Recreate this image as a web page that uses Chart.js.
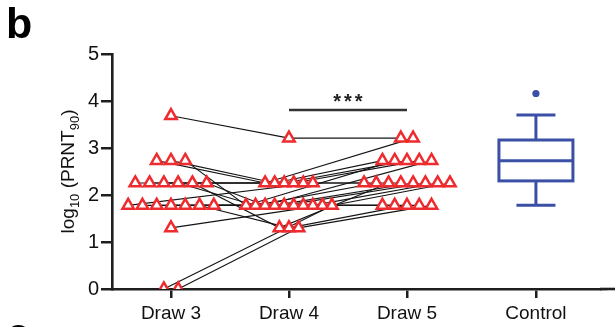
<!DOCTYPE html>
<html>
<head>
<meta charset="utf-8">
<script src="https://cdn.jsdelivr.net/npm/chart.js@4.4.0/dist/chart.umd.min.js"></script>
<style>
  html, body { margin: 0; padding: 0; background: #ffffff; }
  #wrap { width: 615px; height: 327px; position: relative; }
</style>
</head>
<body>
<div id="wrap"><canvas id="c" width="615" height="327"></canvas></div>
<script>
// ---------------- DATA ----------------
const categories = ['Draw 3', 'Draw 4', 'Draw 5', 'Control'];
const yTicks = [0, 1, 2, 3, 4, 5];
// log10(PRNT90) per subject (same order in each array = one subject's trajectory)
const draw3 = [3.687, 2.732, 2.732, 2.732, 2.255, 2.255, 2.255, 2.255, 2.255, 2.255,
               1.778, 1.778, 1.778, 1.778, 1.778, 1.778, 1.778, 1.301, 0, 0];
const draw4 = [3.210, 2.255, 2.255, 1.778, 2.255, 2.255, 2.255, 1.778, 1.301, 1.778,
               2.255, 1.778, 1.778, 1.778, 1.778, 1.301, 1.778, 1.778, 1.778, 1.301];
const draw5 = [3.210, 3.210, 2.732, 2.732, 2.732, 2.732, 2.255, 2.255, 2.255, 2.732,
               2.255, 2.255, 2.255, 1.778, 1.778, 1.778, 2.255, 1.778, 2.255, 1.778];
// Control group box plot: [min whisker, Q1, median, Q3, max whisker]
const controlBox = [1.78, 2.30, 2.73, 3.17, 3.70];
const controlOutliers = [4.16];
const significance = { from: 'Draw 4', to: 'Draw 5', label: '***', level: 3.81 };

// ---------------- LAYOUT / STYLE ----------------
const catX = [1, 2, 3, 4.093];              // x position of each category on the linear axis
const jitterStep = [0.121, 0.081, 0.104];   // horizontal spread of equal values per draw
const RED = '#ee2b2e';
const BLUE = '#3a4fa6';
const AXIS = '#1e1e1e';
const FONT = "'Liberation Sans', Arial, Helvetica, sans-serif";
Chart.defaults.font.family = FONT;
Chart.defaults.color = '#111';

function jitter(values, colIdx) {
  const groups = {};
  values.forEach((v, i) => { (groups[v] = groups[v] || []).push(i); });
  const xs = new Array(values.length);
  Object.values(groups).forEach(idx => {
    const n = idx.length;
    idx.forEach((si, k) => { xs[si] = catX[colIdx] + (k - (n - 1) / 2) * jitterStep[colIdx]; });
  });
  return xs;
}
const draws = [draw3, draw4, draw5];
const xsAll = draws.map((d, c) => jitter(d, c));

const datasets = [];
// triangles (on top)
const triPts = [];
draws.forEach((d, c) => d.forEach((v, i) => triPts.push({ x: xsAll[c][i], y: v })));
datasets.push({
  data: triPts, order: 0, showLine: false,
  pointStyle: 'triangle', pointRadius: 6.6, pointBorderWidth: 2.5,
  pointBorderColor: RED, pointBackgroundColor: '#ffffff'
});
// subject lines
draw3.forEach((_, i) => {
  datasets.push({
    data: draws.map((d, c) => ({ x: xsAll[c][i], y: d[i] })),
    order: 2, showLine: true, borderColor: '#141414', borderWidth: 1.15,
    pointRadius: 0, fill: false, tension: 0
  });
});
// control outliers
datasets.push({
  data: controlOutliers.map(v => ({ x: catX[3], y: v })), order: 0, showLine: false,
  pointStyle: 'circle', pointRadius: 3.6, pointBorderWidth: 0,
  pointBackgroundColor: BLUE, pointBorderColor: BLUE
});
// significance bar
const sFrom = catX[categories.indexOf(significance.from)];
const sTo = catX[categories.indexOf(significance.to)];
datasets.push({
  data: [{ x: sFrom, y: significance.level }, { x: sTo, y: significance.level }],
  order: 1, showLine: true, borderColor: '#333333', borderWidth: 2.6, pointRadius: 0,
  borderCapStyle: 'butt'
});

const overlay = {
  id: 'overlay',
  afterDatasetsDraw(chart) {
    const { ctx, scales: { x, y } } = chart;
    // box plot
    const cx = x.getPixelForValue(catX[3]);
    const [mn, q1, md, q3, mx] = controlBox.map(v => y.getPixelForValue(v));
    const hw = 37, cw = 19.5;
    ctx.save();
    ctx.strokeStyle = BLUE; ctx.lineWidth = 3; ctx.lineCap = 'butt';
    ctx.strokeRect(cx - hw, q3, hw * 2, q1 - q3);
    ctx.beginPath();
    ctx.moveTo(cx - hw, md); ctx.lineTo(cx + hw, md);
    ctx.moveTo(cx, q3); ctx.lineTo(cx, mx);
    ctx.moveTo(cx - cw, mx); ctx.lineTo(cx + cw, mx);
    ctx.moveTo(cx, q1); ctx.lineTo(cx, mn);
    ctx.moveTo(cx - cw, mn); ctx.lineTo(cx + cw, mn);
    ctx.stroke();
    // significance stars
    ctx.fillStyle = '#222';
    ctx.font = 'bold 20px ' + FONT;
    ctx.textAlign = 'center'; ctx.textBaseline = 'alphabetic';
    try { ctx.letterSpacing = '3px'; } catch (e) {}
    ctx.fillText(significance.label, x.getPixelForValue((sFrom + sTo) / 2) + 1.5, y.getPixelForValue(significance.level) - 2);
    try { ctx.letterSpacing = '0px'; } catch (e) {}
    ctx.restore();
  },
  afterDraw(chart) {
    const { ctx, chartArea } = chart;
    ctx.save();
    // remove the stray edge tick below the axis end, then continue the x axis line to the figure edge
    ctx.fillStyle = '#ffffff';
    ctx.fillRect(chartArea.right - 4, chartArea.bottom + 1.4, 10, 14);
    ctx.strokeStyle = AXIS; ctx.lineWidth = 2.6;
    ctx.beginPath();
    ctx.moveTo(chartArea.right - 6, chartArea.bottom);
    ctx.lineTo(chart.width, chartArea.bottom);
    ctx.stroke();
    // y axis title with subscripts
    const big = '19px ' + FONT, small = '13px ' + FONT;
    const parts = [['log', big, 0], ['10', small, 4.5], [' (PRNT', big, 0], ['90', small, 4.5], [')', big, 0]];
    let total = 0;
    parts.forEach(p => { ctx.font = p[1]; total += ctx.measureText(p[0]).width; });
    ctx.translate(74, (chartArea.top + chartArea.bottom) / 2);
    ctx.rotate(-Math.PI / 2);
    ctx.fillStyle = '#111'; ctx.textAlign = 'left'; ctx.textBaseline = 'alphabetic';
    let px = -total / 2;
    parts.forEach(p => { ctx.font = p[1]; ctx.fillText(p[0], px, p[2]); px += ctx.measureText(p[0]).width; });
    ctx.restore();
    // panel letters
    ctx.save();
    ctx.fillStyle = '#000';
    ctx.font = 'bold 43px ' + FONT;
    ctx.textAlign = 'left'; ctx.textBaseline = 'alphabetic';
    ctx.fillText('b', 6, 38);
    ctx.fillText('c', 6, 348);
    ctx.restore();
  }
};

new Chart(document.getElementById('c'), {
  type: 'scatter',
  data: { datasets },
  plugins: [overlay],
  options: {
    responsive: false, animation: false, devicePixelRatio: 1,
    layout: { padding: { top: 54, right: 0, left: 0, bottom: 0 } },
    plugins: { legend: { display: false }, tooltip: { enabled: false } },
    elements: { line: { tension: 0 } },
    scales: {
      x: {
        type: 'linear', min: 0.5, max: 4.686,
        afterBuildTicks: s => { s.ticks = catX.map(v => ({ value: v })); },
        afterFit: s => { s.height = 38; },
        ticks: {
          callback: (v, i) => categories[i],
          font: { size: 19 }, color: '#111', padding: 4, maxRotation: 0, autoSkip: false
        },
        grid: { drawOnChartArea: false, drawTicks: true, tickLength: 9, color: AXIS, lineWidth: 2.5 },
        border: { display: true, color: AXIS, width: 2.6 }
      },
      y: {
        min: 0, max: 5,
        afterBuildTicks: s => { s.ticks = yTicks.map(v => ({ value: v })); },
        afterFit: s => { s.width = 112; },
        ticks: { font: { size: 20 }, color: '#111', padding: 2 },
        grid: { drawOnChartArea: false, drawTicks: true, tickLength: 11, color: AXIS, lineWidth: 2.5 },
        border: { display: true, color: AXIS, width: 2.6 }
      }
    }
  }
});
</script>
</body>
</html>
